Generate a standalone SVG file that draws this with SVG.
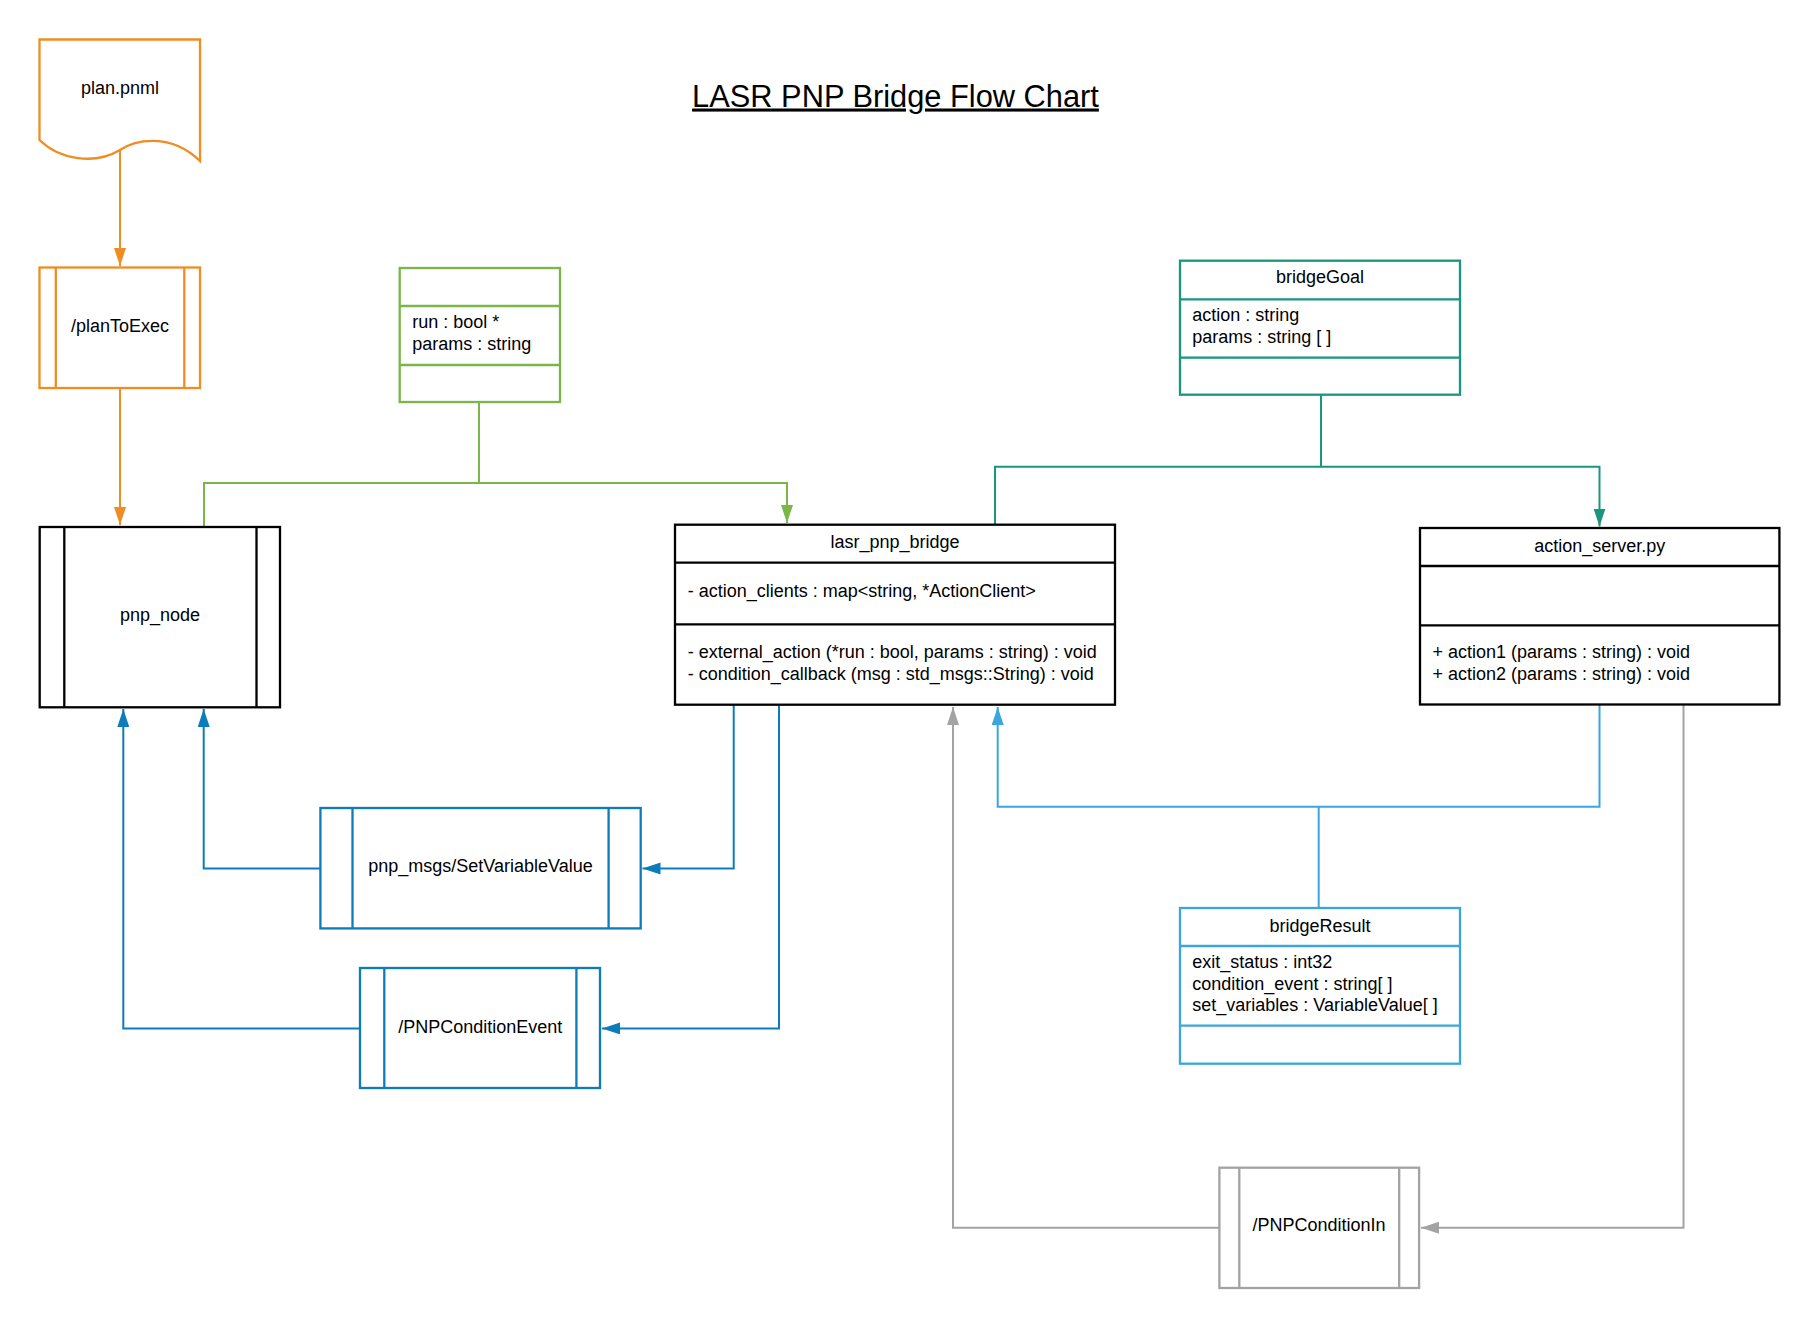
<svg xmlns="http://www.w3.org/2000/svg" width="1820" height="1328" viewBox="0 0 1820 1328">
<style>
text{font-family:"Liberation Sans",Arial,sans-serif;font-size:18px;fill:#000}
.c{text-anchor:middle}
.title{font-size:30.8px;text-decoration:underline}
.box{fill:#fff;stroke-width:2.3}
.k{stroke:#000}
.o{stroke:#EF8D22}
.g{stroke:#7AB648}
.t{stroke:#19967D}
.b{stroke:#0C7CBA}
.lb{stroke:#3AA6DD}
.gr{stroke:#A3A3A3}
.ln{fill:none;stroke-width:2.3}
.conn path{fill:none;stroke-width:2}
</style>
<defs>
<marker id="aO" markerUnits="userSpaceOnUse" markerWidth="20" markerHeight="14" refX="18" refY="6" orient="auto"><path d="M0,0 L18,6 L0,12 z" fill="#EF8D22"/></marker>
<marker id="aG" markerUnits="userSpaceOnUse" markerWidth="20" markerHeight="14" refX="18" refY="6" orient="auto"><path d="M0,0 L18,6 L0,12 z" fill="#7AB648"/></marker>
<marker id="aT" markerUnits="userSpaceOnUse" markerWidth="20" markerHeight="14" refX="18" refY="6" orient="auto"><path d="M0,0 L18,6 L0,12 z" fill="#19967D"/></marker>
<marker id="aB" markerUnits="userSpaceOnUse" markerWidth="20" markerHeight="14" refX="18" refY="6" orient="auto"><path d="M0,0 L18,6 L0,12 z" fill="#0C7CBA"/></marker>
<marker id="aLB" markerUnits="userSpaceOnUse" markerWidth="20" markerHeight="14" refX="18" refY="6" orient="auto"><path d="M0,0 L18,6 L0,12 z" fill="#3AA6DD"/></marker>
<marker id="aGr" markerUnits="userSpaceOnUse" markerWidth="20" markerHeight="14" refX="18" refY="6" orient="auto"><path d="M0,0 L18,6 L0,12 z" fill="#A3A3A3"/></marker>
</defs>
<rect width="1820" height="1328" fill="#fff"/>

<text class="title c" x="895.5" y="106.5">LASR PNP Bridge Flow Chart</text>

<g class="conn" id="connectors">
<path stroke="#EF8D22" d="M120,150 V266" marker-end="url(#aO)"/>
<path stroke="#EF8D22" d="M120,388 V525" marker-end="url(#aO)"/>
<path stroke="#7AB648" d="M479,402 V483"/>
<path stroke="#7AB648" d="M204,527 V483 H787 V523" marker-end="url(#aG)"/>
<path stroke="#19967D" d="M1321,394.7 V466.7"/>
<path stroke="#19967D" d="M995,524.7 V466.7 H1599.5 V526.5" marker-end="url(#aT)"/>
<path stroke="#0C7CBA" d="M733.7,704.7 V868.6 H642.5" marker-end="url(#aB)"/>
<path stroke="#0C7CBA" d="M320.4,868.6 H203.7 V709" marker-end="url(#aB)"/>
<path stroke="#0C7CBA" d="M779,704.7 V1028.4 H602" marker-end="url(#aB)"/>
<path stroke="#0C7CBA" d="M360,1028.4 H123.3 V709" marker-end="url(#aB)"/>
<path stroke="#3AA6DD" d="M1599.5,704.5 V806.7 H997.7 V707" marker-end="url(#aLB)"/>
<path stroke="#3AA6DD" d="M1318.7,806.7 V908"/>
<path stroke="#A3A3A3" d="M1683.5,704.5 V1227.7 H1421" marker-end="url(#aGr)"/>
<path stroke="#A3A3A3" d="M1219.4,1227.7 H953 V707" marker-end="url(#aGr)"/>
</g>

<g id="plan_pnml">
<path class="box o" d="M39.5,39.5 H200 V161 C170,132 135,140 120,150 C95,165 60,160 39.5,140 Z"/>
<text class="c" x="120" y="94.3">plan.pnml</text>
</g>

<g id="planToExec">
<rect class="box o" x="39.5" y="267.5" width="160.5" height="120.5"/>
<path class="ln o" d="M55.8,267.5 V388 M184.3,267.5 V388"/>
<text class="c" x="120" y="331.7">/planToExec</text>
</g>

<g id="params_class">
<rect class="box g" x="399.7" y="268" width="160.3" height="134"/>
<path class="ln g" d="M399.7,306 H560 M399.7,365 H560"/>
<text x="412.3" y="328.3">run : bool *</text>
<text x="412.3" y="350">params : string</text>
</g>

<g id="bridgeGoal">
<rect class="box t" x="1180" y="260.7" width="280" height="134"/>
<path class="ln t" d="M1180,299.3 H1460 M1180,357.7 H1460"/>
<text class="c" x="1320" y="283.3">bridgeGoal</text>
<text x="1192.3" y="321">action : string</text>
<text x="1192.3" y="343.3">params : string [ ]</text>
</g>

<g id="pnp_node">
<rect class="box k" x="39.7" y="527" width="240.3" height="180.3"/>
<path class="ln k" d="M64.3,527 V707.3 M256.5,527 V707.3"/>
<text class="c" x="160" y="620.7">pnp_node</text>
</g>

<g id="lasr_pnp_bridge">
<rect class="box k" x="675" y="524.7" width="440" height="180"/>
<path class="ln k" d="M675,562.7 H1115 M675,624.3 H1115"/>
<text class="c" x="895" y="548.3">lasr_pnp_bridge</text>
<text x="687.7" y="596.7">- action_clients : map&lt;string, *ActionClient&gt;</text>
<text x="687.7" y="658.3">- external_action (*run : bool, params : string) : void</text>
<text x="687.7" y="679.5">- condition_callback (msg : std_msgs::String) : void</text>
</g>

<g id="action_server">
<rect class="box k" x="1420" y="528" width="359.4" height="176.5"/>
<path class="ln k" d="M1420,566 H1779.4 M1420,625.3 H1779.4"/>
<text class="c" x="1599.7" y="551.7">action_server.py</text>
<text x="1432.4" y="658.3">+ action1 (params : string) : void</text>
<text x="1432.4" y="679.8">+ action2 (params : string) : void</text>
</g>

<g id="SetVariableValue">
<rect class="box b" x="320.4" y="808" width="320.3" height="120.4"/>
<path class="ln b" d="M352.5,808 V928.4 M608.6,808 V928.4"/>
<text class="c" x="480.5" y="871.6">pnp_msgs/SetVariableValue</text>
</g>

<g id="PNPConditionEvent">
<rect class="box b" x="360" y="968" width="240" height="120"/>
<path class="ln b" d="M384.3,968 V1088 M576.4,968 V1088"/>
<text class="c" x="480.3" y="1032.6">/PNPConditionEvent</text>
</g>

<g id="bridgeResult">
<rect class="box lb" x="1180" y="908" width="280" height="155.7"/>
<path class="ln lb" d="M1180,946 H1460 M1180,1025.7 H1460"/>
<text class="c" x="1320" y="931.7">bridgeResult</text>
<text x="1192.3" y="968.3">exit_status : int32</text>
<text x="1192.3" y="989.8">condition_event : string[ ]</text>
<text x="1192.3" y="1011.3">set_variables : VariableValue[ ]</text>
</g>

<g id="PNPConditionIn">
<rect class="box gr" x="1219.4" y="1167.7" width="199.7" height="120.3"/>
<path class="ln gr" d="M1239.3,1167.7 V1288 M1399.2,1167.7 V1288"/>
<text class="c" x="1319" y="1231">/PNPConditionIn</text>
</g>
</svg>
